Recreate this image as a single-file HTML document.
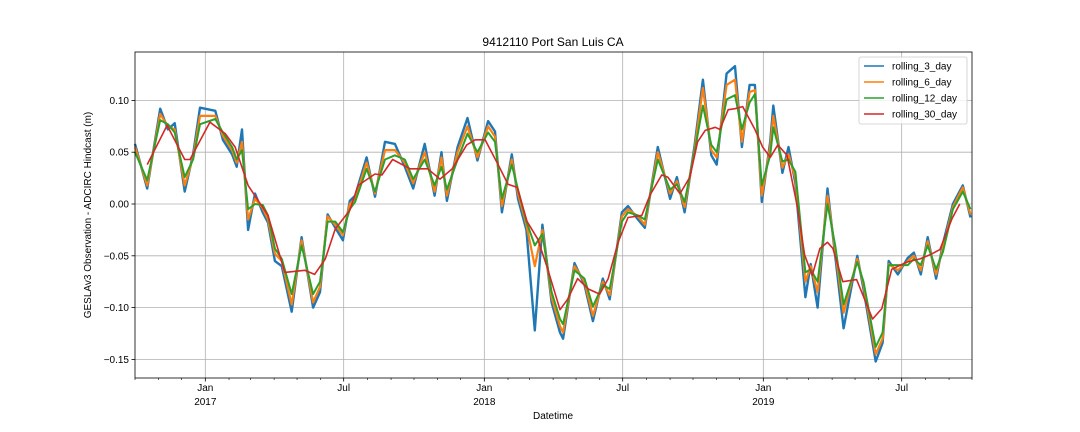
<!DOCTYPE html>
<html><head><meta charset="utf-8"><style>
body{margin:0;background:#fff;}
svg{display:block;font-family:"Liberation Sans","DejaVu Sans",sans-serif;}
</style></head><body>
<svg id="chart" width="1080" height="432" viewBox="0 0 1080 432" xmlns="http://www.w3.org/2000/svg">
<rect x="0" y="0" width="1080" height="432" fill="#fff"/>
<text x="553" y="46" font-size="12" text-anchor="middle" fill="#000">9412110 Port San Luis CA</text>
<text transform="translate(91,215) rotate(-90)" font-size="10" text-anchor="middle" fill="#000">GESLAv3 Observation - ADCIRC Hindcast (m)</text>
<text x="553" y="419" font-size="10" text-anchor="middle" fill="#000">Datetime</text>
<g id="grid"></g><g id="series"></g><g id="axes"></g><g id="legend"></g>
</svg>
<script>
// days since 2016-10-01
const mainDays=[0,16,33,43,52,65,76,85,105,115,127,133,140,148,157,167,174,183,192,205,218,233,242,252,262,272,281,288,303,314,327,340,353,364,379,392,401,408,422,435,448,462,471,480,493,501,512,523,533,545,556,560,575,588,599,612,621,637,645,658,667,684,700,709,719,732,743,754,761,774,785,794,804,811,820,831,835,847,855,864,877,884,893,906,916,927,945,953,969,978,986,998,1011,1019,1028,1037,1048,1057,1070,1083,1093];
const rolling3=[0.058,0.015,0.092,0.072,0.078,0.012,0.048,0.093,0.09,0.062,0.048,0.036,0.072,-0.025,0.01,-0.008,-0.018,-0.055,-0.06,-0.104,-0.032,-0.1,-0.085,-0.01,-0.023,-0.035,0.003,0.008,0.045,0.007,0.06,0.058,0.036,0.015,0.058,0.008,0.05,0.003,0.055,0.083,0.042,0.08,0.07,-0.008,0.048,0.005,-0.025,-0.122,-0.02,-0.095,-0.124,-0.13,-0.057,-0.078,-0.113,-0.072,-0.092,-0.008,-0.002,-0.015,-0.023,0.055,0.005,0.026,-0.008,0.056,0.12,0.047,0.038,0.126,0.133,0.055,0.115,0.115,0.002,0.06,0.095,0.03,0.055,0.02,-0.09,-0.058,-0.1,0.015,-0.05,-0.12,-0.05,-0.082,-0.152,-0.134,-0.055,-0.068,-0.052,-0.047,-0.068,-0.032,-0.072,-0.038,0.0,0.018,-0.013];
const rolling6=[0.055,0.018,0.087,0.075,0.072,0.018,0.045,0.085,0.085,0.066,0.052,0.04,0.06,-0.015,0.005,-0.004,-0.015,-0.048,-0.055,-0.097,-0.035,-0.095,-0.08,-0.012,-0.02,-0.03,0,0.005,0.04,0.01,0.052,0.052,0.04,0.02,0.05,0.012,0.045,0.008,0.05,0.075,0.045,0.075,0.065,-0.002,0.043,0.01,-0.02,-0.06,-0.025,-0.09,-0.118,-0.124,-0.06,-0.075,-0.108,-0.075,-0.088,-0.012,-0.005,-0.012,-0.02,0.05,0.01,0.022,-0.003,0.052,0.112,0.052,0.045,0.115,0.12,0.06,0.108,0.11,0.008,0.055,0.085,0.035,0.048,0.025,-0.075,-0.06,-0.085,0.008,-0.045,-0.105,-0.053,-0.078,-0.145,-0.13,-0.058,-0.064,-0.055,-0.05,-0.064,-0.036,-0.068,-0.042,-0.003,0.016,-0.01];
const rolling12=[0.05,0.023,0.081,0.077,0.069,0.026,0.043,0.077,0.082,0.069,0.055,0.043,0.052,-0.005,0,-0.001,-0.011,-0.043,-0.053,-0.087,-0.04,-0.087,-0.075,-0.017,-0.017,-0.027,-0.005,0.002,0.034,0.012,0.043,0.047,0.043,0.024,0.043,0.018,0.036,0.014,0.043,0.068,0.05,0.069,0.06,0.005,0.038,0.014,-0.017,-0.04,-0.029,-0.085,-0.111,-0.116,-0.064,-0.072,-0.099,-0.078,-0.082,-0.017,-0.008,-0.011,-0.015,0.043,0.014,0.019,0.002,0.05,0.095,0.057,0.05,0.101,0.105,0.072,0.098,0.106,0.018,0.047,0.074,0.041,0.043,0.031,-0.066,-0.063,-0.075,0,-0.04,-0.097,-0.056,-0.075,-0.138,-0.124,-0.059,-0.059,-0.059,-0.053,-0.059,-0.04,-0.063,-0.046,-0.005,0.012,-0.005];
const days30=[16,42,65,72,98,118,131,148,174,196,222,235,249,262,281,292,314,323,337,360,383,399,415,434,445,458,475,488,500,513,527,540,556,566,579,593,608,619,632,645,663,674,689,697,713,726,736,746,759,765,776,785,795,811,821,831,841,853,866,876,886,896,906,913,926,944,965,977,990,1010,1027,1040,1053,1069,1079];
const rolling30=[0.038,0.076,0.043,0.043,0.079,0.068,0.055,0.018,-0.011,-0.066,-0.064,-0.068,-0.053,-0.024,-0.006,0.018,0.029,0.028,0.043,0.034,0.034,0.024,0.034,0.057,0.062,0.062,0.038,0.019,0.016,-0.017,-0.034,-0.063,-0.102,-0.092,-0.072,-0.082,-0.087,-0.072,-0.037,-0.013,-0.011,0.009,0.028,0.026,0.01,0.026,0.06,0.071,0.074,0.072,0.091,0.092,0.094,0.072,0.055,0.045,0.057,0.047,-0.001,-0.049,-0.069,-0.043,-0.037,-0.043,-0.075,-0.073,-0.111,-0.101,-0.063,-0.056,-0.053,-0.049,-0.044,-0.014,0];
const yTicks=[0.10,0.05,0.00,-0.05,-0.10,-0.15];
const yTickLabels=["0.10","0.05","0.00","−0.05","−0.10","−0.15"];
const seriesNames=["rolling_3_day","rolling_6_day","rolling_12_day","rolling_30_day"];
const colors=["#1f77b4","#ff7f0e","#2ca02c","#d62728"];

const L=135,R=972,T=52,B=378,D0=0,D1=1095;
const start=Date.UTC(2016,9,1);
const xS=d=>L+(d-D0)/(D1-D0)*(R-L);
const yS=v=>204-(v/0.05)*51.8;
const NS="http://www.w3.org/2000/svg";
function mk(tag,attrs,parent){const e=document.createElementNS(NS,tag);for(const k in attrs)e.setAttribute(k,attrs[k]);parent.appendChild(e);return e;}
const grid=document.getElementById('grid'),ser=document.getElementById('series'),axes=document.getElementById('axes'),leg=document.getElementById('legend');

yTicks.forEach((v,i)=>{const y=yS(v);
 const g=mk('line',{x1:L,x2:R,y1:y,y2:y,stroke:'#b0b0b0','stroke-width':0.8},grid);
 
 
 mk('line',{x1:L-3.5,x2:L,y1:y,y2:y,stroke:'#000','stroke-width':0.8},axes);
 const t=mk('text',{x:L-6,y:y+3.5,'font-size':10,'text-anchor':'end',fill:'#000'},axes);
 t.textContent=yTickLabels[i];
 
 
});
const mnames=["Jan","Feb","Mar","Apr","May","Jun","Jul","Aug","Sep","Oct","Nov","Dec"];
for(let yr=2016;yr<=2019;yr++)for(let m=0;m<12;m++){
 const d=(Date.UTC(yr,m,1)-start)/86400000; if(d<D0||d>D1)continue;
 const x=xS(d); const major=(m===0||m===6);
 if(major){const g=mk('line',{x1:x,x2:x,y1:T,y2:B,stroke:'#b0b0b0','stroke-width':0.8},grid);
  
  
  mk('line',{x1:x,x2:x,y1:B,y2:B+3.5,stroke:'#000','stroke-width':0.8},axes);
  const t=mk('text',{x:x,y:B+13,'font-size':10,'text-anchor':'middle',fill:'#000'},axes);t.textContent=mnames[m];
  
  
  if(m===0){const t2=mk('text',{x:x,y:B+27,'font-size':10,'text-anchor':'middle',fill:'#000'},axes);t2.textContent=String(yr);
   
   }
 } else mk('line',{x1:x,x2:x,y1:B,y2:B+2,stroke:'#000','stroke-width':0.6},axes);
}
function line(days,vals,i,w){const p=days.map((d,k)=>(k?'L':'M')+xS(d).toFixed(1)+','+yS(vals[k]).toFixed(1)).join('');
 const e=mk('path',{d:p,fill:'none',stroke:colors[i],'stroke-width':w,'stroke-linejoin':'round'},ser);
 
 }
line(mainDays,rolling3,0,2.4);
line(mainDays,rolling6,1,2.2);
line(mainDays,rolling12,2,2);
line(days30,rolling30,3,1.6);
const fr=mk('rect',{x:L,y:T,width:R-L,height:B-T,fill:'none',stroke:'#000','stroke-width':0.8},axes);


const lb=mk('rect',{x:859,y:57,width:108,height:67,rx:2,fill:'#fff','fill-opacity':0.8,stroke:'#ccc','stroke-width':0.8},leg);


seriesNames.forEach((n,i)=>{const y=66+i*16;
 const ln=mk('line',{x1:864,x2:884,y1:y,y2:y,stroke:colors[i],'stroke-width':1.6},leg);
 
 
 const t=mk('text',{x:892,y:y+3.5,'font-size':10,fill:'#000'},leg);t.textContent=n;
 
 
});
</script>
</body></html>
